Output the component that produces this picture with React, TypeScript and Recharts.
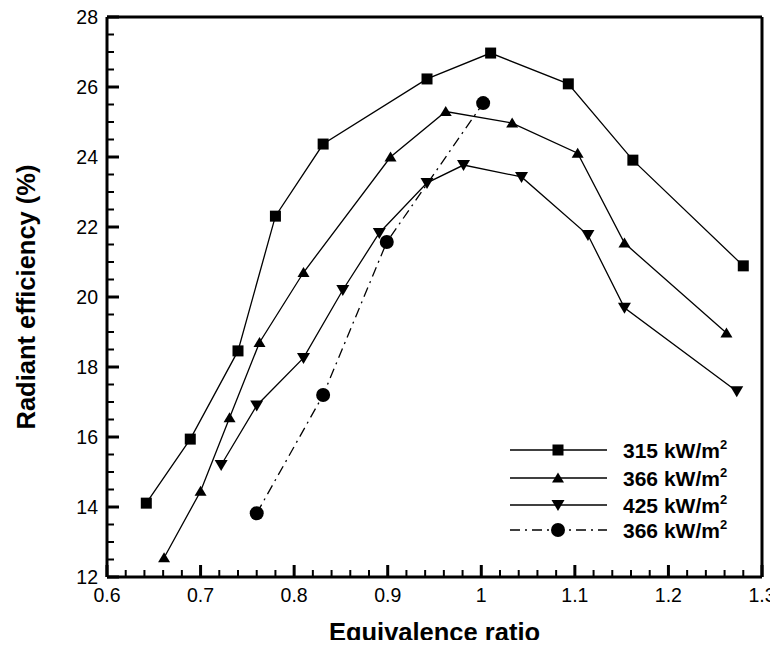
import React from 'react';
import { LineChart, Line, XAxis, YAxis, Legend } from 'recharts';

// Equivalence ratio (x) and radiant efficiency % (y)
const sq315X = [0.642, 0.689, 0.74, 0.78, 0.831, 0.942, 1.01, 1.093, 1.162, 1.28];
const sq315Y = [14.11, 15.94, 18.46, 22.31, 24.37, 26.23, 26.97, 26.09, 23.91, 20.89];
const up366X = [0.661, 0.7, 0.731, 0.763, 0.81, 0.903, 0.962, 1.033, 1.103, 1.153, 1.262];
const up366Y = [12.55, 14.45, 16.55, 18.7, 20.7, 24.0, 25.3, 24.97, 24.11, 21.54, 18.97];
const dn425X = [0.722, 0.76, 0.81, 0.852, 0.891, 0.942, 0.981, 1.043, 1.114, 1.153, 1.273];
const dn425Y = [15.2, 16.9, 18.26, 20.2, 21.83, 23.26, 23.77, 23.43, 21.77, 19.69, 17.31];
const ci366X = [0.76, 0.831, 0.899, 1.002];
const ci366Y = [13.82, 17.2, 21.57, 25.54];

const seriesLabels = ['315', '366', '425', '366'];
const xMajorTicks = [0.6, 0.7, 0.8, 0.9, 1.0, 1.1, 1.2, 1.3];
const yMajorTicks = [12, 14, 16, 18, 20, 22, 24, 26, 28];

const zip = (xs: number[], ys: number[]) => xs.map((x, i) => ({ x, y: ys[i] }));

const xTicksAll: number[] = [];
for (let i = 0; i <= 35; i++) xTicksAll.push(Math.round((0.6 + i * 0.02) * 1000) / 1000);
const yTicksAll: number[] = [];
for (let i = 0; i <= 32; i++) yTicksAll.push(12 + i * 0.5);

const isMajorX = (v: number) => xMajorTicks.some((m) => Math.abs(m - v) < 1e-6);
const isMajorY = (v: number) => yMajorTicks.some((m) => Math.abs(m - v) < 1e-6);

const FONT = '"Liberation Sans", Arial, Helvetica, sans-serif';
const MAJ = 12;
const MIN = 7;

const bottomTick = (p: any) => {
  const v = p.payload.value;
  const major = isMajorX(v);
  return (
    <g key={`bt-${p.index}`}>
      <line x1={p.x} x2={p.x} y1={p.y} y2={p.y - (major ? MAJ : MIN)} stroke="#000" strokeWidth={major ? 3 : 2} />
      {major && (
        <text x={p.x} y={p.y + 24.5} textAnchor="middle" fontFamily={FONT} fontSize={19.5} fill="#000">
          {String(v)}
        </text>
      )}
    </g>
  );
};
const topTick = (p: any) => {
  const major = isMajorX(p.payload.value);
  return (
    <line key={`tt-${p.index}`} x1={p.x} x2={p.x} y1={p.y} y2={p.y + (major ? MAJ : MIN)} stroke="#000" strokeWidth={major ? 3 : 2} />
  );
};
const leftTick = (p: any) => {
  const v = p.payload.value;
  const major = isMajorY(v);
  return (
    <g key={`lt-${p.index}`}>
      <line x1={p.x} x2={p.x + (major ? MAJ : MIN)} y1={p.y} y2={p.y} stroke="#000" strokeWidth={major ? 3 : 2} />
      {major && (
        <text x={p.x - 9} y={p.y + 7} textAnchor="end" fontFamily={FONT} fontSize={19.5} fill="#000">
          {String(v)}
        </text>
      )}
    </g>
  );
};
const rightTick = (p: any) => {
  const major = isMajorY(p.payload.value);
  return (
    <line key={`rt-${p.index}`} x1={p.x} x2={p.x - (major ? MAJ : MIN)} y1={p.y} y2={p.y} stroke="#000" strokeWidth={major ? 3 : 2} />
  );
};

const Square = ({ cx, cy }: any) => <rect x={cx - 5.5} y={cy - 5.5} width={11} height={11} fill="#000" />;
const TriUp = ({ cx, cy }: any) => (
  <polygon points={`${cx - 6},${cy + 4.5} ${cx + 6},${cy + 4.5} ${cx},${cy - 5.5}`} fill="#000" />
);
const TriDown = ({ cx, cy }: any) => (
  <polygon points={`${cx - 6.5},${cy - 5} ${cx + 6.5},${cy - 5} ${cx},${cy + 6}`} fill="#000" />
);
const Circ = ({ cx, cy }: any) => <circle cx={cx} cy={cy} r={7} fill="#000" />;

const markers = [Square, TriUp, TriDown, Circ];
const dashes = [undefined, undefined, undefined, '10 5 2 5'];

const dotFn = (M: any) => (props: any) => <M key={`d-${props.index}`} cx={props.cx} cy={props.cy} />;

const renderLegend = () => (
  <svg width={260} height={112}>
    {seriesLabels.map((lab, i) => {
      const y = [17, 45, 72, 97][i];
      const M = markers[i];
      return (
        <g key={i}>
          <line x1={12} x2={109} y1={y} y2={y} stroke="#000" strokeWidth={1.3} strokeDasharray={dashes[i]} />
          <M cx={60} cy={y} />
          <text x={125} y={y + 7.5} fontFamily={FONT} fontSize={21} fontWeight="bold" fill="#000">
            {lab} kW/m
            <tspan dy={-9} fontSize={13}>2</tspan>
          </text>
        </g>
      );
    })}
  </svg>
);

const axisLine = { stroke: '#000', strokeWidth: 3 };

export default function App() {
  const series = [zip(sq315X, sq315Y), zip(up366X, up366Y), zip(dn425X, dn425Y), zip(ci366X, ci366Y)];
  return (
    <div style={{ position: 'relative', width: 770, height: 640, marginBottom: -8 }}>
      <LineChart width={770} height={640} margin={{ top: 8, right: 15, bottom: 0, left: 0 }}>
        <XAxis
          xAxisId="b"
          type="number"
          dataKey="x"
          domain={[0.6, 1.3]}
          ticks={xTicksAll}
          interval={0}
          height={71}
          tickSize={0}
          tickMargin={0}
          tickLine={false}
          tick={bottomTick}
          axisLine={axisLine}
          label={{ value: 'Equivalence ratio', position: 'insideBottom', offset: 7, fontFamily: FONT, fontSize: 25.5, fontWeight: 'bold', fill: '#000' }}
        />
        <XAxis
          xAxisId="t"
          orientation="top"
          type="number"
          domain={[0.6, 1.3]}
          ticks={xTicksAll}
          interval={0}
          height={1}
          tickSize={0}
          tickMargin={0}
          tickLine={false}
          tick={topTick}
          axisLine={axisLine}
        />
        <YAxis
          yAxisId="l"
          type="number"
          dataKey="y"
          domain={[12, 28]}
          ticks={yTicksAll}
          interval={0}
          width={99}
          tickSize={0}
          tickMargin={0}
          tickLine={false}
          tick={leftTick}
          axisLine={axisLine}
          label={{ value: 'Radiant efficiency (%)', angle: -90, position: 'insideLeft', offset: 18, style: { textAnchor: 'middle' }, fontFamily: FONT, fontSize: 25.5, fontWeight: 'bold', fill: '#000' }}
        />
        <YAxis
          yAxisId="r"
          orientation="right"
          type="number"
          domain={[12, 28]}
          ticks={yTicksAll}
          interval={0}
          width={1}
          tickSize={0}
          tickMargin={0}
          tickLine={false}
          tick={rightTick}
          axisLine={axisLine}
        />
        {series.map((d, i) => (
          <Line
            key={i}
            xAxisId="b"
            yAxisId="l"
            data={d}
            dataKey="y"
            type="linear"
            stroke="#000"
            strokeWidth={1.3}
            strokeDasharray={dashes[i]}
            dot={dotFn(markers[i])}
            activeDot={false}
            isAnimationActive={false}
          />
        ))}
        <Legend
          layout="vertical"
          align="center"
          verticalAlign="middle"
          content={renderLegend}
          wrapperStyle={{ position: 'absolute', left: 490, top: 425, width: 260, height: 112 }}
        />
      </LineChart>
    </div>
  );
}
